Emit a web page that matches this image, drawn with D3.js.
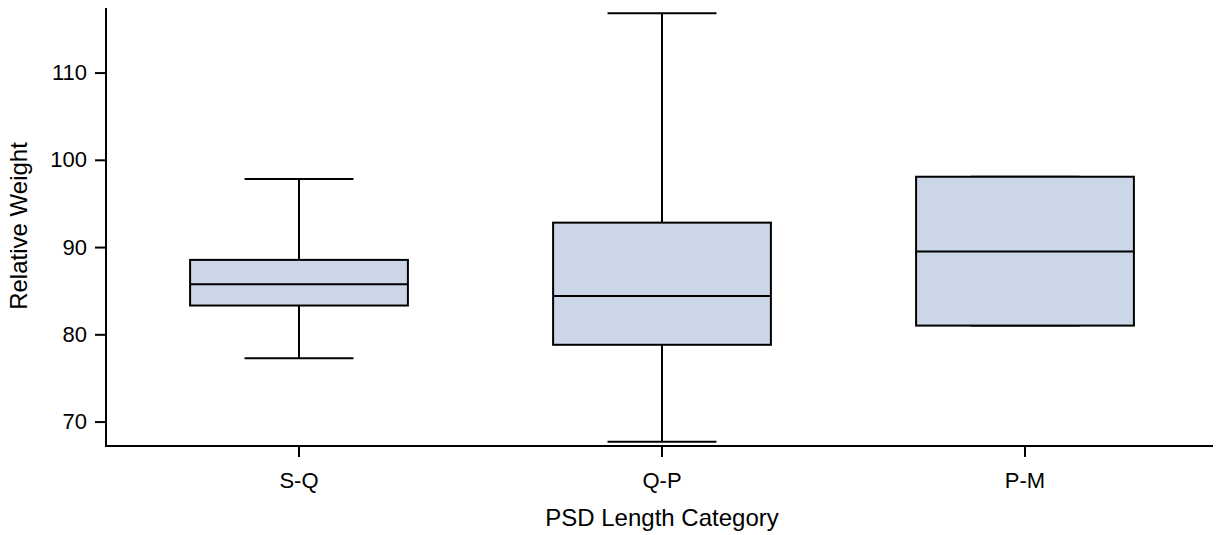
<!DOCTYPE html>
<html><head><meta charset="utf-8">
<script src="https://cdn.jsdelivr.net/npm/d3@7"></script>
<style>body{margin:0;background:#fff}svg{display:block}text{font-family:"Liberation Sans",Arial,sans-serif;fill:#000}</style>
</head><body>
<script>
const categories = ["S-Q", "Q-P", "P-M"];
const mins    = [77.27, 67.7, 81.0];
const q1s     = [83.3, 78.8, 81.0];
const medians = [85.75, 84.4, 89.5];
const q3s     = [88.53, 92.8, 98.06];
const maxs    = [97.8, 116.8, 98.06];
const yTicks  = [70, 80, 90, 100, 110];

const W = 1225, H = 535;
const svg = d3.select("body").append("svg").attr("width", W).attr("height", H);

const x = d3.scaleBand().domain(categories).range([117.5, 1206.5]).padding(0);
const y = d3.scaleLinear().domain([67.2, 117.4]).range([446, 8]);

const data = categories.map((c, i) => ({c, min: mins[i], q1: q1s[i], med: medians[i], q3: q3s[i], max: maxs[i]}));
const bw = x.bandwidth() * 0.6, cw = x.bandwidth() * 0.3;

const g = svg.append("g");
data.forEach(d => {
  const cx = x(d.c) + x.bandwidth() / 2;
  const gg = g.append("g");
  gg.append("line").attr("x1", cx).attr("x2", cx).attr("y1", y(d.q3)).attr("y2", y(d.max)).attr("stroke", "#000").attr("stroke-width", 2);
  gg.append("line").attr("x1", cx).attr("x2", cx).attr("y1", y(d.q1)).attr("y2", y(d.min)).attr("stroke", "#000").attr("stroke-width", 2);
  gg.append("line").attr("x1", cx - cw / 2).attr("x2", cx + cw / 2).attr("y1", y(d.max)).attr("y2", y(d.max)).attr("stroke", "#000").attr("stroke-width", 2);
  gg.append("line").attr("x1", cx - cw / 2).attr("x2", cx + cw / 2).attr("y1", y(d.min)).attr("y2", y(d.min)).attr("stroke", "#000").attr("stroke-width", 2);
  gg.append("rect").attr("x", cx - bw / 2).attr("width", bw).attr("y", y(d.q3)).attr("height", y(d.q1) - y(d.q3))
    .attr("fill", "#cbd6e6").attr("stroke", "#000").attr("stroke-width", 2);
  gg.append("line").attr("x1", cx - bw / 2).attr("x2", cx + bw / 2).attr("y1", y(d.med)).attr("y2", y(d.med)).attr("stroke", "#000").attr("stroke-width", 2);
});

// Y axis
const ya = svg.append("g").attr("transform", "translate(106,0)")
  .call(d3.axisLeft(y).tickValues(yTicks).tickSize(11).tickPadding(8));
ya.select(".domain").remove();
svg.append("line").attr("x1", 106).attr("x2", 106).attr("y1", 8).attr("y2", 447).attr("stroke", "#000").attr("stroke-width", 2);
ya.selectAll(".tick line").attr("stroke", "#000").attr("stroke-width", 2);
ya.selectAll("text").attr("font-size", 22).style("font-family", "Liberation Sans, Arial, sans-serif");

// X axis
const xa = svg.append("g").attr("transform", "translate(0,446)")
  .call(d3.axisBottom(x).tickSize(11).tickPadding(15.5));
xa.select(".domain").remove();
svg.append("line").attr("x1", 105).attr("x2", 1213).attr("y1", 446).attr("y2", 446).attr("stroke", "#000").attr("stroke-width", 2);
xa.selectAll(".tick line").attr("stroke", "#000").attr("stroke-width", 2);
xa.selectAll("text").attr("font-size", 22).style("font-family", "Liberation Sans, Arial, sans-serif");

// titles
svg.append("text").attr("x", 662).attr("y", 526).attr("text-anchor", "middle").attr("font-size", 24).text("PSD Length Category");
svg.append("text").attr("transform", "translate(27,226) rotate(-90)").attr("text-anchor", "middle").attr("font-size", 24).text("Relative Weight");
</script>
</body></html>
